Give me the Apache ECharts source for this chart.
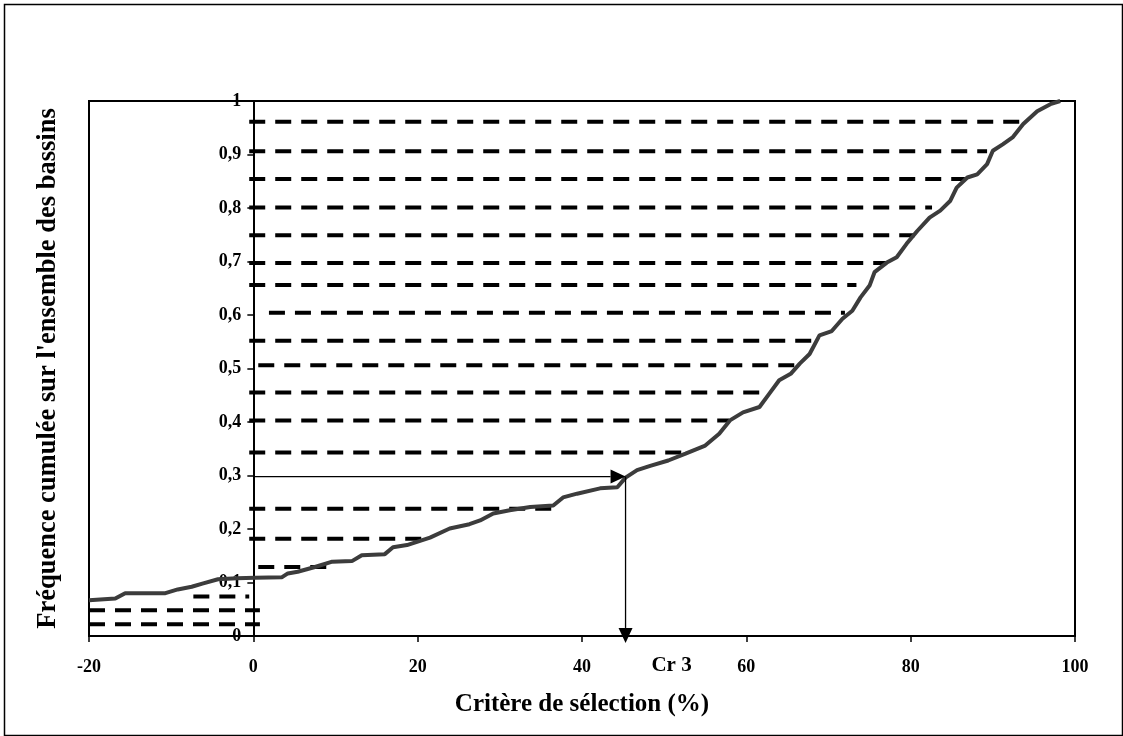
<!DOCTYPE html>
<html>
<head>
<meta charset="utf-8">
<script src="https://cdn.jsdelivr.net/npm/echarts@6/dist/echarts.min.js"></script>
<style>
html,body{margin:0;padding:0;background:#fff;}
#c{width:1123px;height:736px;}
</style>
</head>
<body>
<div id="c"></div>
<script>
// ---- data ----
const curveX = [-20, -16.8, -15.6, -10.7, -9.2, -7.5, -6.2, -4.3, -2, 0.2, 3.5, 4.2, 5.4, 7.5, 9.6, 12.0, 13.2, 16.0, 17.0, 18.7, 21.5, 23.9, 26.3, 27.6, 29.2, 31.2, 33.7, 36.5, 37.7, 39.4, 42.2, 44.3, 45.3, 46.7, 48.3, 50.5, 52.6, 55.0, 56.7, 58.0, 59.6, 61.6, 62.8, 64.0, 65.4, 66.5, 67.7, 68.9, 70.4, 71.7, 72.9, 73.9, 75.0, 75.6, 77.1, 78.3, 79.5, 80.8, 82.3, 83.6, 84.8, 85.6, 86.9, 88.1, 89.3, 90.0, 91.2, 92.4, 93.7, 95.4, 97.0, 98.2];
const curveY = [0.067, 0.070, 0.080, 0.080, 0.087, 0.092, 0.098, 0.106, 0.108, 0.109, 0.110, 0.117, 0.120, 0.129, 0.139, 0.140, 0.151, 0.153, 0.166, 0.170, 0.184, 0.201, 0.209, 0.216, 0.229, 0.235, 0.241, 0.244, 0.259, 0.266, 0.276, 0.278, 0.296, 0.310, 0.318, 0.328, 0.341, 0.356, 0.378, 0.403, 0.418, 0.428, 0.453, 0.478, 0.490, 0.509, 0.527, 0.562, 0.570, 0.593, 0.608, 0.633, 0.655, 0.680, 0.698, 0.708, 0.733, 0.757, 0.782, 0.795, 0.813, 0.838, 0.857, 0.863, 0.882, 0.907, 0.919, 0.932, 0.957, 0.981, 0.994, 1.0];

const dashY     = [0.961, 0.906, 0.854, 0.801, 0.749, 0.697, 0.656, 0.604, 0.552, 0.506, 0.455, 0.403, 0.343, 0.238, 0.182, 0.129, 0.074, 0.048, 0.022];
const dashStart = [-0.5, -0.5, -0.5, -0.5, -0.5, -0.5, -0.5, 1.9, -0.5, 0.6, -0.5, -0.5, -0.5, -0.5, -0.5, 0.6, -7.3, -20, -20];
const dashEnd   = [93.7, 89.3, 86.6, 82.6, 80.5, 77.1, 73.4, 72.0, 68.0, 66.2, 61.9, 57.9, 52.1, 36.5, 21.5, 9.0, -0.5, 0.8, 0.8];

// arrows: [x0, y0, x1, y1]
const arrowH = [0, 0.298, 45.3, 0.298];
const arrowV = [45.3, 0.298, 45.3, -0.013];
const crLabel = 'Cr 3';
const crLabelX = 50.9;

const xTicks = {min: -20, max: 100, interval: 20};
const yTicks = {min: 0, max: 1, interval: 0.1};
const xTitle = 'Critère de sélection (%)';
const yTitle = "Fréquence cumulée sur l'ensemble des bassins";

// ---- chart ----
const FONT = "'Liberation Serif', 'Times New Roman', serif";
const chart = echarts.init(document.getElementById('c'), null, {renderer: 'canvas'});

const G = {left: 89, right: 48, top: 101, bottom: 100};
const gridW = 1123 - G.left - G.right;
// place the y axis on x = 0 (axis crossing), measured through the x scale
const yAxisOffset = -((0 - xTicks.min) / (xTicks.max - xTicks.min)) * gridW;

const dashData = dashY.map((y, i) => [dashStart[i], y, dashEnd[i], y]);

function arrowItem(params, api) {
  const p0 = api.coord([api.value(0), api.value(1)]);
  const p1 = api.coord([api.value(2), api.value(3)]);
  const dx = p1[0] - p0[0], dy = p1[1] - p0[1];
  const len = Math.hypot(dx, dy);
  const ux = dx / len, uy = dy / len;
  const L = 15, W = 7;
  const b = [p1[0] - ux * L, p1[1] - uy * L];
  return {
    type: 'group',
    children: [
      {type: 'line', shape: {x1: p0[0], y1: p0[1], x2: b[0], y2: b[1]}, style: {stroke: '#000', lineWidth: 1.3}},
      {type: 'polygon', shape: {points: [p1, [b[0] - uy * W, b[1] + ux * W], [b[0] + uy * W, b[1] - ux * W]]}, style: {fill: '#000'}}
    ]
  };
}

const option = {
  animation: false,
  backgroundColor: '#fff',
  grid: {left: G.left, right: G.right, top: G.top, bottom: G.bottom, show: true, borderColor: '#000', borderWidth: 2,
         containLabel: false, outerBoundsMode: 'none'},
  xAxis: {
    type: 'value', min: xTicks.min, max: xTicks.max, interval: xTicks.interval,
    name: xTitle, nameLocation: 'middle', nameGap: 56,
    nameTextStyle: {fontFamily: FONT, fontWeight: 'bold', fontSize: 25, color: '#000'},
    axisLine: {show: true, onZero: false, lineStyle: {color: '#000', width: 2}},
    axisTick: {show: true, inside: false, length: 6, lineStyle: {color: '#000', width: 1.5}},
    axisLabel: {fontFamily: FONT, fontWeight: 'bold', fontSize: 18, color: '#000', margin: 22},
    splitLine: {show: false}
  },
  yAxis: {
    type: 'value', min: yTicks.min, max: yTicks.max, interval: yTicks.interval,
    position: 'left', offset: yAxisOffset,
    name: yTitle, nameLocation: 'middle', nameGap: 192, nameRotate: 90,
    nameTextStyle: {fontFamily: FONT, fontWeight: 'bold', fontSize: 26.5, color: '#000'},
    axisLine: {show: true, onZero: false, lineStyle: {color: '#000', width: 2}},
    axisTick: {show: true, inside: false, length: 6, lineStyle: {color: '#000', width: 1.5}},
    axisLabel: {
      fontFamily: FONT, fontWeight: 'bold', fontSize: 18, color: '#000', margin: 12,
      formatter: v => String(+(+v).toFixed(1)).replace('.', ',')
    },
    splitLine: {show: false}
  },
  series: [
    {
      type: 'custom', name: 'dashes', z: 2, silent: true,
      encode: {x: [0, 2], y: [1, 3]},
      data: dashData,
      renderItem: function (params, api) {
        const p0 = api.coord([api.value(0), api.value(1)]);
        const p1 = api.coord([api.value(2), api.value(3)]);
        return {type: 'line', shape: {x1: p0[0], y1: p0[1], x2: p1[0], y2: p1[1]},
          style: {stroke: '#000', lineWidth: 4, lineDash: [16, 10]}};
      }
    },
    {
      type: 'line', name: 'curve', z: 3, silent: true,
      data: curveX.map((x, i) => [x, curveY[i]]),
      showSymbol: false, symbol: 'none',
      lineStyle: {color: '#3c3c3c', width: 4}
    },
    {
      type: 'custom', name: 'arrows', z: 4, silent: true,
      encode: {x: [0, 2], y: [1, 3]},
      data: [arrowH, arrowV],
      renderItem: arrowItem
    },
    {
      type: 'custom', name: 'crlabel', z: 4, silent: true,
      encode: {x: 0, y: 1},
      data: [[crLabelX, 0]],
      renderItem: function (params, api) {
        const p = api.coord([api.value(0), api.value(1)]);
        return {type: 'text', x: p[0], y: p[1] + 30,
          style: {text: crLabel, fontFamily: FONT, fontWeight: 'bold', fontSize: 21, fill: '#000', align: 'center', verticalAlign: 'middle'}};
      }
    }
  ],
  graphic: [
    {type: 'rect', left: 2, top: 2, shape: {width: 1118, height: 731}, style: {fill: 'none', stroke: '#000', lineWidth: 1.5}, silent: true}
  ]
};
chart.setOption(option);
</script>
</body>
</html>
